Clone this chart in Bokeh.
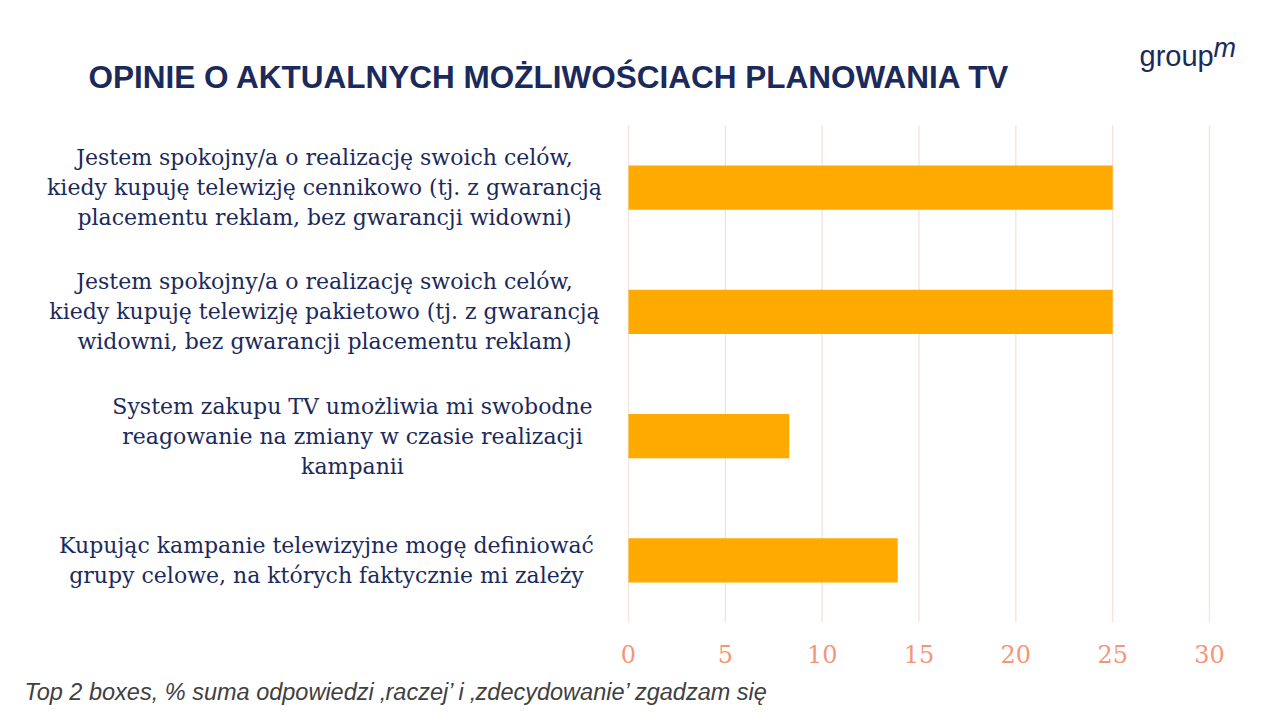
from bokeh.plotting import figure
from bokeh.models import Range1d, FixedTicker, ColumnDataSource, Title
from bokeh.core.properties import value
from bokeh.embed import file_html
from bokeh.resources import INLINE

# ---- data ----
categories = [
    "Jestem spokojny/a o realizację swoich celów,\nkiedy kupuję telewizję cennikowo (tj. z gwarancją\nplacementu reklam, bez gwarancji widowni)",
    "Jestem spokojny/a o realizację swoich celów,\nkiedy kupuję telewizję pakietowo (tj. z gwarancją\nwidowni, bez gwarancji placementu reklam)",
    "System zakupu TV umożliwia mi swobodne\nreagowanie na zmiany w czasie realizacji\nkampanii",
    "Kupując kampanie telewizyjne mogę definiować\ngrupy celowe, na których faktycznie mi zależy",
]
values = [25.0, 25.0, 8.3, 13.9]
x_ticks = [0, 5, 10, 15, 20, 25, 30]
title_text = "OPINIE O AKTUALNYCH MOŻLIWOŚCIACH PLANOWANIA TV"
footnote_text = "Top 2 boxes, % suma odpowiedzi ‚raczej’ i ‚zdecydowanie’ zgadzam się"
logo_main = "group"
logo_sup = "m"

# ---- layout constants (canvas pixels) ----
W, H = 1264, 720
FRAME_B = 622          # bottom of plotting frame
BARS_T = 125           # top of bar area (grid lines start)
ZERO_PX = 628
PX_PER_UNIT = 581 / 30.0
N = len(categories)
PX_PER_ROW = (FRAME_B - BARS_T) / N

def px2x(cx):
    return (cx - ZERO_PX) / PX_PER_UNIT

def px2y(cy):
    return -0.5 + (cy - BARS_T) / PX_PER_ROW

label_centers_px = [324, 324, 352, 326]

NAVY = "#1B2A5B"

p = figure(width=W, height=H, output_backend="svg", toolbar_location=None,
           x_range=Range1d(px2x(0), px2x(W)),
           y_range=Range1d(N - 0.5, px2y(0)),
           y_axis_location=None,
           min_border_left=0, min_border_right=0,
           min_border_top=0, min_border_bottom=H - FRAME_B)
p.outline_line_color = None
p.background_fill_color = "white"
p.border_fill_color = "white"
p.xgrid.grid_line_color = None
p.ygrid.grid_line_color = None

idx = list(range(N))
src = ColumnDataSource(dict(y=idx, right=values, cat=categories,
                            lx=[px2x(c) for c in label_centers_px]))

# grid lines over the bar area only
p.segment(x0=x_ticks, x1=x_ticks, y0=[-0.5] * len(x_ticks), y1=[N - 0.5] * len(x_ticks),
          line_color="#F9E1D9", line_width=1.3)

p.hbar(y="y", left=0, right="right", height=0.355, source=src,
       fill_color="#FFAA00", line_color=None)

p.text(x="lx", y="y", text="cat", source=src,
       text_font=value("DejaVu Serif"), text_font_size="22px",
       text_color=NAVY, text_align="center", text_baseline="middle",
       text_line_height=1.2)

# title
p.text(x=[px2x(88)], y=[px2y(76)], text=[title_text],
       text_font=value("Liberation Sans"), text_font_style="bold",
       text_font_size="31.5px", text_color=NAVY,
       text_align="left", text_baseline="middle")
# logo
p.text(x=[px2x(1139)], y=[px2y(55)], text=[logo_main],
       text_font=value("Liberation Sans"), text_font_size="29px",
       text_color=NAVY, text_align="left", text_baseline="alphabetic")
p.text(x=[px2x(1213)], y=[px2y(47)], text=[logo_sup],
       text_font=value("Liberation Sans"), text_font_style="italic",
       text_font_size="27px", text_color=NAVY,
       text_align="left", text_baseline="alphabetic")

ax = p.xaxis[0]
ax.ticker = FixedTicker(ticks=x_ticks)
ax.axis_line_color = None
ax.major_tick_line_color = None
ax.minor_tick_line_color = None
ax.major_tick_out = 0
ax.major_tick_in = 0
ax.major_label_standoff = 22
ax.major_label_text_font = "DejaVu Serif"
ax.major_label_text_font_size = "24px"
ax.major_label_text_color = "#F4967A"

# footnote
p.add_layout(Title(text=footnote_text, align="left", offset=24, standoff=22,
                   text_font="Liberation Sans", text_font_style="italic",
                   text_font_size="23.5px", text_color="#404040"), "below")

open("out.html", "w").write(file_html(p, INLINE))
